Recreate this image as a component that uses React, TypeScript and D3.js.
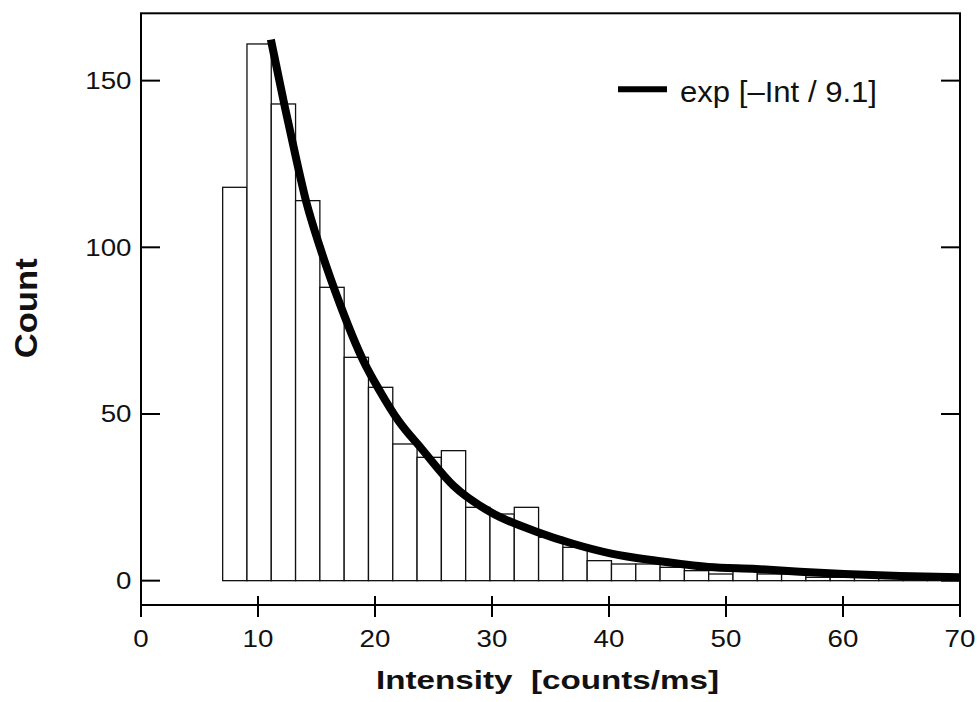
import React from 'react';
import * as d3 from 'd3';

// Histogram data (bin edges start at binStart, equal width)
const binStart = 6.98;
const binWidth = 2.077;
const counts = [118, 161, 143, 114, 88, 67, 58, 41, 37, 39, 22, 20, 22, 13, 10, 6, 5, 5, 4, 3, 2, 3, 2, 2, 1, 1, 1, 1, 1, 1, 1];

// Fit curve points
const fitX = [11.1, 12.3, 13.3, 14.1, 15.3, 17.0, 19.0, 20.4, 22.0, 24.0, 26.7, 29.9, 33.8, 37.0, 40.1, 44.2, 48.5, 52.6, 56.3, 60.1, 64.9, 70.0];
const fitY = [162.3, 142, 126, 114, 100, 83, 66, 57, 48, 39.5, 28.5, 20.5, 14.7, 11, 8.2, 5.9, 4.1, 3.5, 2.7, 2.0, 1.4, 1.0];

const xTicks = [0, 10, 20, 30, 40, 50, 60, 70];
const yTicks = [0, 50, 100, 150];
const legendLabel = 'exp [–Int / 9.1]';
const xTitle = 'Intensity  [counts/ms]';
const yTitle = 'Count';

const FONT = '"Liberation Sans", Arial, Helvetica, sans-serif';

export default function App() {
  const W = 977;
  const H = 702;
  const x = d3.scaleLinear().domain([0, 70]).range([141, 960]);
  const y = d3.scaleLinear().domain([-7.3, 170.2]).range([605, 13.3]);
  const [x0, x1] = x.range();
  const [yb, yt] = y.range();

  const line = d3
    .line<number>()
    .x((_, i) => x(fitX[i]))
    .y((d) => y(d))
    .curve(d3.curveMonotoneX);

  const digitW = 15.4;

  return (
    <svg
      width={W}
      height={H}
      viewBox={`0 0 ${W} ${H}`}
      style={{ position: 'absolute', left: 0, top: 0, background: '#fff' }}
      fontFamily={FONT}
    >
      <defs>
        <clipPath id="plot">
          <rect x={x0} y={yt} width={x1 - x0} height={yb - yt} />
        </clipPath>
      </defs>
      <rect x={0} y={0} width={W} height={H} fill="#fff" />

      {/* bars */}
      <g clipPath="url(#plot)">
        {counts.map((c, i) => {
          const a = binStart + i * binWidth;
          const b = a + binWidth;
          return (
            <rect
              key={i}
              x={x(a)}
              y={y(c)}
              width={x(b) - x(a)}
              height={y(0) - y(c)}
              fill="#fff"
              stroke="#111"
              strokeWidth={1.3}
            />
          );
        })}
      </g>

      {/* fit curve */}
      <path d={line(fitY) || ''} fill="none" stroke="#000" strokeWidth={8} strokeLinejoin="round" />

      {/* frame */}
      <rect x={x0} y={yt} width={x1 - x0} height={yb - yt} fill="none" stroke="#000" strokeWidth={2} />

      {/* y ticks */}
      {yTicks.map((t) => (
        <g key={'y' + t}>
          <line x1={x0} x2={x0 + 19} y1={y(t)} y2={y(t)} stroke="#000" strokeWidth={2} />
          <line x1={x1 - 19} x2={x1} y1={y(t)} y2={y(t)} stroke="#000" strokeWidth={2} />
          <text
            x={131.5}
            y={y(t) + 8.3}
            fontSize={23}
            textAnchor="end"
            textLength={String(t).length * digitW}
            lengthAdjust="spacingAndGlyphs"
            fill="#111"
          >
            {t}
          </text>
        </g>
      ))}

      {/* x ticks */}
      {xTicks.map((t) => (
        <g key={'x' + t}>
          <line x1={x(t)} x2={x(t)} y1={yb - 9} y2={yb + 12} stroke="#000" strokeWidth={2} />
          <text
            x={x(t)}
            y={646.7}
            fontSize={23}
            textAnchor="middle"
            textLength={String(t).length * digitW}
            lengthAdjust="spacingAndGlyphs"
            fill="#111"
          >
            {t}
          </text>
        </g>
      ))}

      {/* legend */}
      <line x1={618} x2={667} y1={89.3} y2={89.3} stroke="#000" strokeWidth={6} />
      <text x={680} y={101.5} fontSize={30} textLength={197} lengthAdjust="spacingAndGlyphs" fill="#111">
        {legendLabel}
      </text>

      {/* axis titles */}
      <text
        x={547.5}
        y={689.3}
        fontSize={26.5}
        fontWeight="bold"
        textAnchor="middle"
        textLength={343}
        lengthAdjust="spacingAndGlyphs"
        style={{ whiteSpace: 'pre' }}
        fill="#111"
      >
        {xTitle}
      </text>
      <text
        transform={`translate(36.7, 308.3) rotate(-90)`}
        fontSize={31}
        fontWeight="bold"
        textAnchor="middle"
        textLength={100}
        lengthAdjust="spacingAndGlyphs"
        fill="#111"
      >
        {yTitle}
      </text>
    </svg>
  );
}
